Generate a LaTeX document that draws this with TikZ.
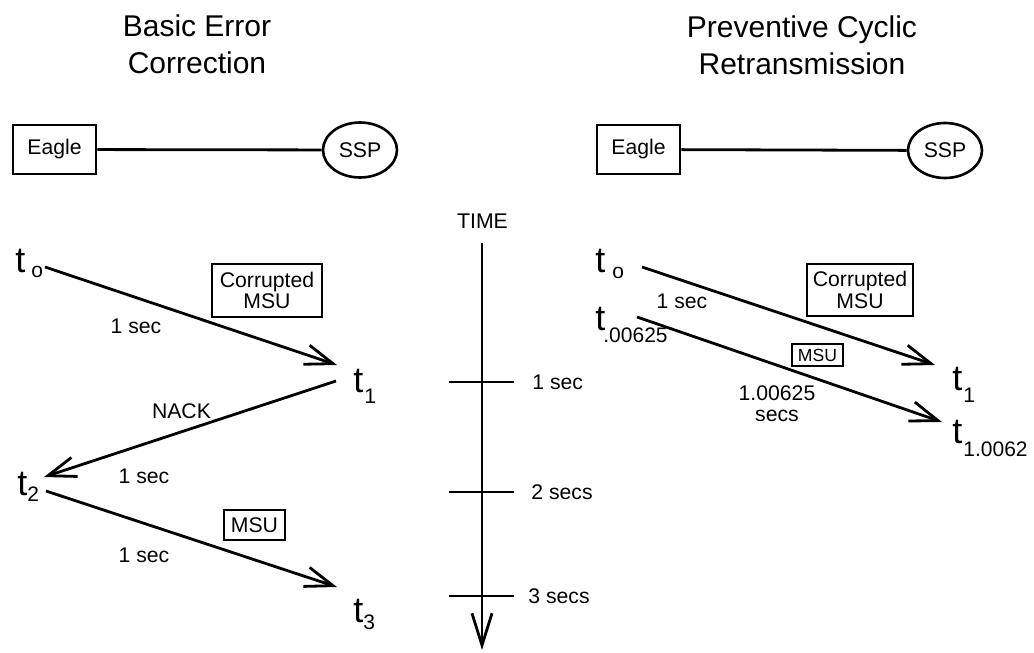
\documentclass[tikz,border=0pt]{standalone}
\usepackage{fontspec}
\setmainfont{Liberation Sans}
\usepackage{tikz}
\usetikzlibrary{arrows.meta,positioning,shapes.geometric}
\newcommand{\subfont}{\fontsize{10.5}{10.5}\selectfont}
\newcommand{\tsub}[3]{t\kern#1\raisebox{-#2}{\subfont #3}}
\tikzset{
  lbl/.style={inner sep=0pt,font=\fontsize{10.6}{10.8}\selectfont,align=center},
  ttl/.style={inner sep=0pt,font=\fontsize{15}{18.5}\selectfont,align=center,anchor=north},
  tlab/.style={inner sep=0pt,anchor=base west,font=\fontsize{18}{18}\selectfont},
  endbox/.style={draw,line width=1.3pt,inner sep=0pt,minimum width=41.5pt,minimum height=24.5pt,
                 font=\fontsize{10.6}{10.8}\selectfont},
  ssp/.style={ellipse,draw,line width=1.3pt,inner sep=0pt,minimum width=37pt,minimum height=27.5pt,
              font=\fontsize{10.6}{10.8}\selectfont},
  msubox/.style={draw,line width=1.1pt,inner sep=0pt,font=\fontsize{10.6}{10.8}\selectfont,align=center},
  msg/.style={line width=1.4pt,-{Straight Barb[length=14pt,width=10pt]}},
  link/.style={line width=1.4pt},
}
\begin{document}
\begin{tikzpicture}[x=0.5pt,y=-0.5pt]
  \useasboundingbox (0,0) rectangle (1034,653);
  % titles
  \node[ttl] (ttlL) at (197,14) {Basic Error\\Correction};
  \node[ttl] (ttlR) at (802,15) {Preventive Cyclic\\Retransmission};
  % links
  \node[endbox] (eagleL) at (54.5,149.5) {Eagle};
  \node[ssp] (sspL) at (360,150) {SSP};
  \draw[link] (eagleL) -- (sspL);
  \node[endbox] (eagleR) at (638.5,149.5) {Eagle};
  \node[ssp] (sspR) at (945,150.5) {SSP};
  \draw[link] (eagleR) -- (sspR);

  % basic error correction
  \node[tlab] (lt0) at (15,272) {\tsub{3pt}{2.5pt}{o}};
  \node[tlab] (lt1) at (353,392) {\tsub{0.5pt}{5.5pt}{1}};
  \node[tlab] (lt2) at (17,495) {\tsub{0pt}{3pt}{2}};
  \node[tlab] (lt3) at (353,622) {\tsub{0pt}{3.5pt}{3}};
  \coordinate (l0s) at (45,267);  \coordinate (l1e) at (337,365);
  \coordinate (l1s) at (336,381); \coordinate (l2e) at (44,477);
  \coordinate (l2s) at (46,491);  \coordinate (l3e) at (337,587);
  \draw[msg] (l0s) -- (l1e);
  \draw[msg] (l1s) -- (l2e);
  \draw[msg] (l2s) -- (l3e);
  \node[msubox,minimum width=55pt,minimum height=26.5pt] (corrL) at (267,290.5) {Corrupted\\MSU};
  \node[msubox,minimum width=30.5pt,minimum height=15pt] (msuL) at (254.5,525) {MSU};
  \node[lbl] (secA) at (136,326.5) {1 sec};
  \node[lbl] (nack) at (181.5,411.5) {NACK};
  \node[lbl] (secB) at (144,476) {1 sec};
  \node[lbl] (secC) at (144,555.5) {1 sec};

  % time axis
  \node[lbl] (time) at (482.5,221.5) {TIME};
  \coordinate (axTop) at (482,243); \coordinate (axBot) at (482,650);
  \draw[line width=1.4pt,-{Straight Barb[length=16pt,width=10pt]}] (axTop) -- (axBot);
  \foreach \y/\txt/\xx in {382/1 sec/532,492/2 secs/531,596/3 secs/528}{
    \draw[link] (449,\y) -- (514,\y);
    \node[lbl,anchor=west] at (\xx,\y) {\txt};
  }

  % preventive cyclic retransmission
  \node[tlab] (rt0) at (595,272) {\tsub{3.5pt}{3pt}{o}};
  \node[tlab] (rtb) at (595,330) {\tsub{-1pt}{6pt}{.00625}};
  \node[tlab] (rt1) at (952,390) {\tsub{0.5pt}{6pt}{1}};
  \node[tlab] (rt2) at (952,443) {\tsub{0.5pt}{6.5pt}{1.0062}};
  \coordinate (r0s) at (642,267); \coordinate (r1e) at (935,365);
  \coordinate (rbs) at (637,317); \coordinate (r2e) at (942,422);
  \draw[msg] (r0s) -- (r1e);
  \draw[msg] (rbs) -- (r2e);
  \node[msubox,minimum width=53pt,minimum height=26pt] (corrR) at (860,290) {Corrupted\\MSU};
  \node[msubox,minimum width=25.5pt,minimum height=11pt,font=\fontsize{8.8}{9}\selectfont] (msuR) at (817.5,355) {MSU};
  \node[lbl] (secR) at (682,301.5) {1 sec};
  \node[lbl,font=\fontsize{10.6}{10.6}\selectfont] (secsR) at (777,403.5) {1.00625\\secs};
\end{tikzpicture}
\end{document}
